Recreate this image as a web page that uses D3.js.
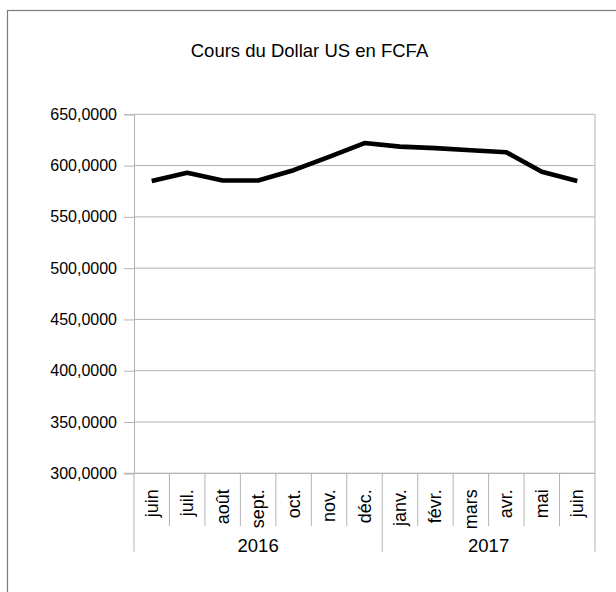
<!DOCTYPE html>
<html>
<head>
<meta charset="utf-8">
<script src="https://cdn.jsdelivr.net/npm/d3@7"></script>
<style>
  html, body { margin: 0; padding: 0; background: #fff; }
  svg { display: block; font-family: "Liberation Sans", Arial, sans-serif; }
</style>
</head>
<body>
<svg id="chart" width="616" height="592"></svg>
<script>
// chart data
var title = "Cours du Dollar US en FCFA";
var months = ["juin", "juil.", "août", "sept.", "oct.", "nov.", "déc.",
              "janv.", "févr.", "mars", "avr.", "mai", "juin"];
var monthYears = ["2016", "2016", "2016", "2016", "2016", "2016", "2016",
                  "2017", "2017", "2017", "2017", "2017", "2017"];
var rates = [585.0, 593.0, 585.5, 585.5, 595.5, 608.5, 622.0,
             618.5, 617.0, 615.0, 613.0, 594.0, 585.0];
var yTicks = [300, 350, 400, 450, 500, 550, 600, 650];

var margin = {top: 114.3, right: 21, bottom: 118.7, left: 134};
var width = 616 - margin.left - margin.right;
var height = 592 - margin.top - margin.bottom;

var svg = d3.select("#chart");

// outer frame
svg.append("rect")
  .attr("x", 7.5).attr("y", 10.5)
  .attr("width", 640).attr("height", 640)
  .style("fill", "none")
  .style("stroke", "#7a7a7a")
  .style("stroke-width", 1.2);

svg.append("text")
  .attr("x", 309.5).attr("y", 56.5)
  .attr("text-anchor", "middle")
  .style("font-size", "18.5px")
  .style("fill", "#000")
  .text(title);

var graph = svg.append("g")
  .attr("transform", "translate(" + margin.left + "," + margin.top + ")");

var idx = d3.range(months.length);
var x = d3.scaleBand().domain(idx).range([0, width]).padding(0);
var y = d3.scaleLinear().domain([300, 650]).range([height, 0]);

var fr = d3.formatLocale({decimal: ",", thousands: " ", grouping: [3], currency: ["", ""]});

// grid lines
graph.selectAll(".grid")
  .data(yTicks)
  .enter()
  .append("line")
  .attr("x1", 0).attr("x2", width)
  .attr("y1", function(d) { return y(d); })
  .attr("y2", function(d) { return y(d); })
  .style("stroke", "#b3b3b3")
  .style("stroke-width", 1);

// plot side borders
graph.append("line")
  .attr("x1", width).attr("x2", width)
  .attr("y1", 0).attr("y2", height)
  .style("stroke", "#b3b3b3");

// y axis
var yAxis = graph.append("g")
  .call(d3.axisLeft(y).tickValues(yTicks).tickSize(10).tickPadding(7).tickFormat(fr.format(".4f")));
yAxis.select(".domain").style("stroke", "#b3b3b3");
yAxis.selectAll(".tick line").style("stroke", "#b3b3b3");
yAxis.selectAll("text")
  .style("font-family", "Liberation Sans, Arial, sans-serif")
  .style("font-size", "16px")
  .style("fill", "#000");

// month separators
var seps = d3.range(months.length + 1);
graph.selectAll(".msep")
  .data(seps)
  .enter()
  .append("line")
  .attr("x1", function(d) { return d < months.length ? x(d) : width; })
  .attr("x2", function(d) { return d < months.length ? x(d) : width; })
  .attr("y1", height)
  .attr("y2", function(d) {
    var edge = d === 0 || d === months.length || monthYears[d] !== monthYears[d - 1];
    return height + (edge ? 78.4 : 52.7);
  })
  .style("stroke", "#b3b3b3");

// month labels
graph.selectAll(".mlab")
  .data(idx)
  .enter()
  .append("text")
  .attr("transform", function(d) {
    return "translate(" + (x(d) + x.bandwidth() / 2 + 6) + "," + (height + 16) + ") rotate(-90)";
  })
  .attr("text-anchor", "end")
  .style("font-size", "18px")
  .style("fill", "#000")
  .text(function(d) { return months[d]; });

// year labels
var years = d3.groups(idx, function(d) { return monthYears[d]; });
graph.selectAll(".ylab")
  .data(years)
  .enter()
  .append("text")
  .attr("x", function(g) {
    var first = g[1][0], last = g[1][g[1].length - 1];
    return (x(first) + x(last) + x.bandwidth()) / 2;
  })
  .attr("y", height + 79)
  .attr("text-anchor", "middle")
  .style("font-size", "18.5px")
  .style("fill", "#000")
  .text(function(g) { return g[0]; });

// bottom axis line
graph.append("line")
  .attr("x1", -10).attr("x2", width)
  .attr("y1", height).attr("y2", height)
  .style("stroke", "#b3b3b3");

var valueLine = d3.line()
  .x(function(d) { return x(d) + x.bandwidth() / 2; })
  .y(function(d) { return y(rates[d]); });

graph.append("path")
  .datum(idx)
  .attr("d", valueLine)
  .style("fill", "none")
  .style("stroke", "#000")
  .style("stroke-width", 4.6)
  .style("stroke-linejoin", "round");
</script>
</body>
</html>
